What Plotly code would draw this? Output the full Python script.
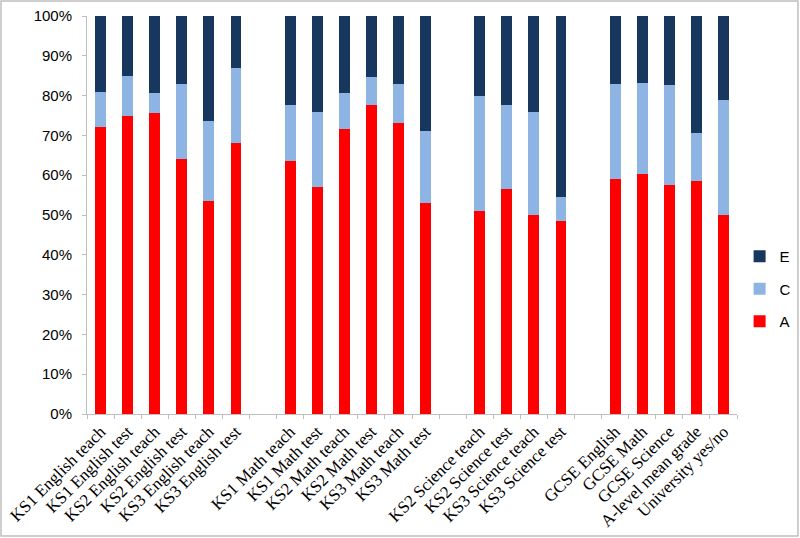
import plotly.graph_objects as go

categories = [
    "KS1 English teach", "KS1 English test", "KS2 English teach", "KS2 English test",
    "KS3 English teach", "KS3 English test", " ",
    "KS1 Math teach", "KS1 Math test", "KS2 Math teach", "KS2 Math test",
    "KS3 Math teach", "KS3 Math test", "  ",
    "KS2 Science teach", "KS2 Science test", "KS3 Science teach", "KS3 Science test", "   ",
    "GCSE English", "GCSE Math", "GCSE Science", "A-level mean grade", "University yes/no",
]

# percentages (None = empty gap column)
A = [72, 75, 75.6, 64, 53.5, 68, None,
     63.5, 57, 71.7, 77.7, 73, 53, None,
     51, 56.5, 50, 48.5, None,
     59, 60.3, 57.5, 58.5, 50]
C = [9, 10, 5.1, 19, 20.1, 19, None,
     14.1, 19, 9, 7, 9.9, 18, None,
     29, 21.1, 26, 6, None,
     24, 22.8, 25.2, 12, 29]
E = [19, 15, 19.3, 17, 26.4, 13, None,
     22.4, 24, 19.3, 15.3, 17.1, 29, None,
     20, 22.4, 24, 45.5, None,
     17, 16.9, 17.3, 29.5, 21]

series = [("A", A, "#FF0000", 3), ("C", C, "#8EB4E3", 2), ("E", E, "#17375E", 1)]

fig = go.Figure()
for name, vals, color, rank in series:
    fig.add_trace(go.Bar(
        x=categories, y=vals, name=name, legendgroup=name, legendrank=rank,
        marker=dict(color=color, line=dict(width=0)),
    ))

fig.update_layout(
    barmode="stack",
    barnorm="percent",
    bargap=0.6,
    width=800, height=538,
    margin=dict(l=87, r=63, t=16, b=124, autoexpand=False),
    paper_bgcolor="white",
    plot_bgcolor="white",
    font=dict(family="Liberation Sans, Arial, sans-serif", size=14, color="black"),
    legend=dict(
        x=1.004, y=0.314, xanchor="left", yanchor="middle",
        traceorder="grouped",
        font=dict(family="Liberation Sans, Arial, sans-serif", size=15),
        itemwidth=30, tracegroupgap=10,
        bgcolor="rgba(0,0,0,0)",
    ),
    xaxis=dict(
        type="category",
        automargin=False,
        tickangle=-45,
        tickson="boundaries",
        ticks="outside", ticklen=4, tickcolor="#BFBFBF",
        showline=True, linecolor="#BFBFBF", linewidth=1,
        showgrid=False,
        tickfont=dict(family="Liberation Serif, Times New Roman, serif", size=17),
    ),
    yaxis=dict(
        automargin=False,
        range=[0, 100],
        tickvals=[0, 10, 20, 30, 40, 50, 60, 70, 80, 90, 100],
        ticktext=[f"{v}%" for v in range(0, 101, 10)],
        ticks="outside", ticklen=4, tickcolor="#BFBFBF",
        ticklabelstandoff=7,
        showline=True, linecolor="#BFBFBF", linewidth=1,
        showgrid=False, zeroline=False,
        tickfont=dict(family="Liberation Sans, Arial, sans-serif", size=15),
    ),
    shapes=[dict(
        type="rect", xref="paper", yref="paper",
        x0=-0.1323, x1=1.0938, y0=-0.3065, y1=1.0377,
        line=dict(color="#BFBFBF", width=1.5),
    )],
)

fig.write_html(
    "out.html",
    config={"displayModeBar": False},
    post_script="document.body.style.margin='0';document.body.style.padding='0';",
)
